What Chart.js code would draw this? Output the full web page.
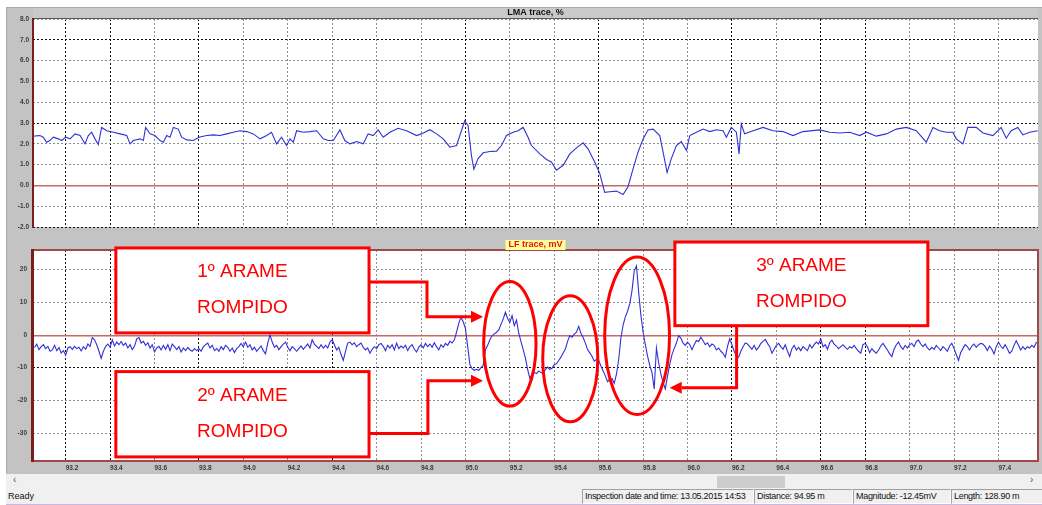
<!DOCTYPE html>
<html>
<head>
<meta charset="utf-8">
<script src="https://cdn.jsdelivr.net/npm/chart.js@4/dist/chart.umd.min.js"></script>
<style>
  html, body { margin: 0; padding: 0; width: 1042px; height: 505px; overflow: hidden; background: #fff;
    font-family: "Liberation Sans", Arial, sans-serif; }
  #frame { position: absolute; left: 6px; top: 7px; width: 1036px; height: 467px; background: #c3c3c3;
    border-top: 1px solid #a9a9a9; border-left: 1px solid #a9a9a9; box-sizing: border-box; }
  canvas { position: absolute; left: 0; }
  #lma { top: 0; }
  #lf { top: 235px; }
  #scroll { position: absolute; left: 6px; top: 474px; width: 1036px; height: 15px; background: #f0f0f0; }
  #thumb { position: absolute; left: 711px; top: 2px; width: 68px; height: 12px; background: #cdcdcd; }
  .arrow { position: absolute; top: 0px; font-size: 10px; color: #555; }
  #status { position: absolute; left: 6px; top: 489px; width: 1036px; height: 15px; background: #f0f0f0;
    border-bottom: 1px solid #c9b8e4; }
  .pane { position: absolute; top: 0; height: 13px; border: 1px solid #a0a0a0; border-right-color: #fff;
    border-bottom-color: #fff; font-size: 9px; line-height: 13px; padding-left: 2px; white-space: nowrap;
    letter-spacing: -0.3px; color: #111; overflow: hidden; box-sizing: content-box; }
  #ready { position: absolute; left: 2px; top: 1px; font-size: 9px; line-height: 13px; color: #111; }
</style>
</head>
<body>
<div id="frame"></div>
<canvas id="lma" width="1042" height="235"></canvas>
<canvas id="lf" width="1042" height="240"></canvas>
<div id="scroll">
  <span class="arrow" style="left:7px">&lsaquo;</span>
  <div id="thumb"></div>
  <span class="arrow" style="left:1024px">&rsaquo;</span>
</div>
<div id="status">
  <span id="ready">Ready</span>
  <div class="pane" style="left:576px;width:168px">Inspection date and time: 13.05.2015 14:53</div>
  <div class="pane" style="left:748px;width:95px">Distance: 94.95 m</div>
  <div class="pane" style="left:847px;width:94px">Magnitude: -12.45mV</div>
  <div class="pane" style="left:945px;width:88px">Length: 128.90 m</div>
</div>

<script>
// ---------------- data ----------------
// LMA trace: distance (m) and metallic-area loss (%)
const lmaDist = [
  93.059, 93.084, 93.099, 93.114, 93.129, 93.144, 93.167, 93.182, 93.200, 93.220,
  93.242, 93.265, 93.287, 93.302, 93.317, 93.332, 93.347, 93.362, 93.385, 93.415,
  93.445, 93.475, 93.490, 93.505, 93.535, 93.550, 93.560, 93.580, 93.602, 93.625,
  93.640, 93.655, 93.670, 93.685, 93.707, 93.722, 93.745, 93.775, 93.800, 93.835,
  93.865, 93.895, 93.925, 93.955, 93.985, 94.015, 94.045, 94.075, 94.105, 94.127,
  94.150, 94.172, 94.195, 94.210, 94.225, 94.240, 94.270, 94.300, 94.330, 94.360,
  94.382, 94.405, 94.435, 94.457,
  94.480, 94.510, 94.540, 94.562, 94.585, 94.607, 94.630, 94.660, 94.697, 94.735,
  94.780, 94.802, 94.840, 94.870, 94.900, 94.930, 94.960, 94.982, 94.997, 95.012,
  95.027, 95.038, 95.057, 95.080, 95.110, 95.140, 95.162, 95.185, 95.215, 95.237,
  95.260, 95.282, 95.297, 95.335, 95.365, 95.387, 95.410, 95.440, 95.470, 95.500,
  95.530, 95.552, 95.582, 95.605, 95.627, 95.650, 95.680, 95.710, 95.732, 95.755,
  95.777, 95.800, 95.822, 95.845, 95.875, 95.890, 95.908, 95.927, 95.950, 95.972,
  95.995,
  96.010, 96.040, 96.070, 96.100, 96.130, 96.160, 96.175, 96.197, 96.220, 96.232,
  96.242, 96.257, 96.295, 96.340, 96.385, 96.430, 96.475, 96.520, 96.595, 96.640,
  96.685, 96.730, 96.775, 96.805, 96.850, 96.895, 96.940, 96.985, 97.030, 97.075,
  97.105, 97.135, 97.165, 97.195, 97.210, 97.240, 97.262, 97.300, 97.330, 97.375,
  97.412, 97.435, 97.457, 97.487, 97.510, 97.540, 97.577
];
const lmaValue = [
  2.37, 2.40, 2.32, 2.08, 2.16, 2.32, 2.24, 2.16, 2.32, 2.24,
  2.48, 2.40, 2.00, 2.40, 2.56, 2.24, 1.97, 2.79, 2.63, 2.56,
  2.48, 2.40, 2.00, 2.16, 2.24, 2.16, 2.79, 2.48, 2.40, 2.16,
  2.08, 2.40, 2.32, 2.79, 2.71, 2.32, 2.19, 2.16, 2.32, 2.40,
  2.43, 2.40, 2.48, 2.56, 2.63, 2.59, 2.48, 2.24, 2.40, 2.56,
  2.00, 2.32, 1.92, 2.24, 2.08, 2.63, 2.56, 2.59, 2.63, 2.24,
  2.16, 2.16, 2.67, 2.16,
  2.00, 2.11, 2.00, 2.48, 2.40, 2.67, 2.32, 2.56, 2.75, 2.63,
  2.40, 2.48, 2.68, 2.48, 2.24, 1.84, 1.92, 2.63, 3.11, 2.87,
  1.44, 0.78, 1.29, 1.57, 1.63, 1.65, 1.92, 2.40, 2.56, 2.63,
  2.79, 2.32, 1.92, 1.52, 1.25, 1.13, 0.73, 0.97, 1.52, 1.81,
  2.05, 1.76, 1.13, 0.57, -0.33, -0.30, -0.27, -0.43, -0.06, 0.81,
  1.60, 2.24, 2.67, 2.71, 2.40, 1.60, 0.62, 1.29, 1.92, 2.11,
  1.68,
  2.40, 2.56, 2.71, 2.59, 2.68, 2.63, 2.32, 2.79, 2.56, 1.52,
  2.95, 2.48, 2.63, 2.79, 2.63, 2.59, 2.40, 2.59, 2.67, 2.56,
  2.52, 2.56, 2.40, 2.56, 2.37, 2.48, 2.71, 2.79, 2.63, 2.08,
  2.79, 2.63, 2.56, 2.56, 2.24, 2.00, 2.79, 2.79, 2.52, 2.40,
  2.79, 2.27, 2.63, 2.79, 2.43, 2.56, 2.63
];

// LF trace (mV), sampled every 0.01 m starting at 93.06 m
const lfStart = 93.06;
const lfStep = 0.01;
const lfValues = [
  -3.8, -2.8, -4.5, -3.6,                                      // 93.06
  -3.0, -4.2, -3.5, -5.0, -4.6, -3.2, -4.8, -3.9, -5.5, -4.8,  // 93.1
  -6.2, -4.0, -3.6, -4.4, -3.5, -4.2, -3.8, -4.9, -3.6, -4.4,  // 93.2
  -2.8, -3.5, -0.8, -1.5, -3.0, -5.0, -7.2, -5.0, -3.5, -2.8,  // 93.3
  -3.8, -1.5, -3.4, -2.2, -3.0, -2.0, -3.2, -2.5, -4.0, -3.0,  // 93.4
  -4.5, -3.5, -1.2, -0.8, -2.5, -2.0, -3.2, -2.4, -4.0, -3.0,  // 93.5
  -5.2, -4.0, -3.5, -4.6, -3.2, -4.4, -3.0, -4.8, -2.8, -3.6,  // 93.6
  -4.5, -3.6, -5.2, -4.0, -4.8, -3.8, -4.6, -5.0, -4.2, -4.8,  // 93.7
  -4.2, -5.0, -3.6, -3.0, -2.5, -4.0, -3.2, -4.8, -4.2, -5.0,  // 93.8
  -3.6, -4.5, -3.2, -3.8, -5.0, -4.0, -5.4, -4.2, -3.6, -2.6,  // 93.9
  -3.6, -2.2, -3.8, -3.0, -4.6, -3.8, -5.0, -4.2, -3.4, -4.8,  // 94.0
  -5.8, -2.5,  0.0, -2.2, -3.8, -3.2, -4.5, -3.6, -2.8, -2.2,  // 94.1
  -3.8, -4.8, -3.6, -4.2, -5.0, -4.2, -3.4, -4.4, -3.6, -2.8,  // 94.2
  -4.0, -1.5, -2.8, -3.5, -4.2, -3.0, -4.0, -3.2, -4.0, -2.2,  // 94.3
  -1.5, -3.0, -4.6, -3.8, -6.0, -7.8, -5.0, -2.5, -2.2, -3.0,  // 94.4
  -2.4, -3.6, -3.0, -2.5, -3.8, -4.6, -4.0, -5.6, -4.4, -3.6,  // 94.5
  -4.2, -3.0, -2.6, -3.5, -4.8, -3.2, -4.0, -3.0, -4.6, -2.5,  // 94.6
  -4.2, -3.4, -4.0, -3.2, -4.8, -3.6, -3.0, -4.4, -5.2, -3.8,  // 94.7
  -3.0, -4.0, -2.6, -3.6, -2.8, -3.8, -2.4, -3.6, -4.6, -3.0,  // 94.8
  -3.8, -2.6, -3.2, -2.0, -2.5, -1.5,  0.8,  3.5,  5.4,  4.0,  // 94.9
   2.0, -3.5, -9.0, -10.3, -10.8, -10.5, -10.8, -10.0, -9.3, -4.5, // 95.0
  -3.2, -1.5, -0.3,  0.3,  0.8,  1.5,  3.2,  4.8,  6.9,  5.0,  // 95.1
   3.8,  5.9,  2.8,  4.5,  0.5, -2.0, -4.5, -7.0, -10.5, -13.3, // 95.2
  -12.0, -11.5, -11.8, -11.0, -11.5, -11.8, -10.5, -9.8, -10.5, -10.2, // 95.3
  -9.0, -8.8, -7.8, -6.8, -5.5, -4.3, -2.0, -0.2, -0.7,  0.2,  // 95.4
   0.8,  2.6,  0.5, -0.8, -2.5, -4.5, -5.5, -6.5, -8.0, -7.5,  // 95.5
  -7.8, -9.5, -11.0, -12.5, -14.3, -13.5, -13.3, -14.8, -12.0, -7.5, // 95.6
  -1.0,  3.0,  5.5,  7.2,  9.5, 13.5, 19.5, 21.0, 13.0,  6.0,  // 95.7
   0.8, -3.0, -6.5, -9.3, -11.5, -16.5, -4.0, -8.5, -12.0, -14.5, // 95.8
  -16.5, -12.5, -9.0, -6.0, -4.2, -2.5, -0.2, -1.0, -2.5, -3.2, // 95.9
  -2.2, -3.0, -4.5, -3.0, -1.7, -2.0, -0.7, -1.8, -3.0, -2.4,  // 96.0
  -3.6, -2.8, -3.2, -4.6, -4.0, -5.0, -5.6, -6.8, -3.5, -1.2,  // 96.1
  -3.0, -5.0, -6.4, -6.8, -5.0, -3.6, -2.5, -2.8, -3.6, -4.4,  // 96.2
  -3.2, -4.6, -3.8, -2.6, -2.0, -1.4, -2.6, -3.6, -5.6, -4.4,  // 96.3
  -3.2, -2.6, -3.6, -4.4, -3.0, -5.0, -6.6, -4.2, -3.2, -4.6,  // 96.4
  -3.8, -4.8, -3.6, -4.2, -4.8, -3.0, -4.0, -3.0, -2.2, -2.8,  // 96.5
  -1.2, -3.6, -3.0, -4.4, -2.4, -1.6, -2.8, -3.4, -4.2, -3.6,  // 96.6
  -3.0, -3.8, -4.4, -3.6, -4.0, -3.2, -4.2, -5.0, -5.6, -3.0,  // 96.7
  -2.6, -3.6, -5.4, -4.2, -5.0, -5.6, -4.6, -3.4, -2.6, -3.6,  // 96.8
  -4.6, -5.8, -6.6, -4.4, -3.0, -2.2, -3.6, -4.4, -3.2, -4.0,  // 96.9
  -3.0, -2.6, -3.6, -2.0, -1.6, -2.8, -3.6, -2.8, -4.0, -4.6,  // 97.0
  -3.8, -4.4, -3.2, -4.0, -4.8, -3.6, -4.2, -5.0, -3.4, -2.6,  // 97.1
  -4.2, -6.0, -7.8, -5.4, -4.2, -3.0, -3.6, -4.6, -3.4, -2.8,  // 97.2
  -3.8, -3.0, -2.6, -2.8, -3.6, -4.8, -3.4, -4.4, -5.8, -3.6,  // 97.3
  -2.2, -3.4, -4.2, -3.0, -4.2, -5.6, -5.0, -3.2, -1.8, -3.2,  // 97.4
  -4.6, -3.6, -4.4, -3.6, -4.0, -3.2, -3.8, -2.4, -2.2         // 97.5
];

// axis settings
const distMin = 93.053, distMax = 97.578, distStep = 0.2;
const lmaMin = -2, lmaMax = 8, lmaStep = 1;
const lfMin = -38.45, lfMax = 25.87, lfStep10 = 10;

// ---------------- styling ----------------
const FONT = '"Liberation Sans", Arial, sans-serif';
const TRACE_BLUE = 'rgb(48,48,214)';
const GRID_DARK = '#111';
const GRID_LIGHT = '#8f8f8f';
const ZERO_LINE = '#c46a6a';
const lmaDarkX = [93.2, 93.4, 93.8, 95.0, 95.6, 96.2, 96.6, 96.8];
const lmaDarkY = [7, 3, -2];
const lfDarkX = [93.2, 93.4, 93.8, 94.4, 96.2, 96.6, 96.8];
const lfDarkY = [-10];

const near = (list, v) => list.some(d => Math.abs(d - v) < 1e-6);
const gridColor = (dark) => ctx => {
  const v = ctx.tick ? ctx.tick.value : NaN;
  if (Math.abs(v) < 1e-9) return 'rgba(0,0,0,0)';
  return near(dark, v) ? GRID_DARK : GRID_LIGHT;
};
const tickFont = { family: FONT, size: 6.5, weight: 'bold' };

// white plot background, solid zero line
function plotBackground(chart) {
  const { ctx, chartArea: a } = chart;
  ctx.save();
  ctx.fillStyle = '#fff';
  ctx.fillRect(a.left, a.top, a.right - a.left, a.bottom - a.top);
  ctx.restore();
}
function zeroLine(chart) {
  const { ctx, chartArea: a, scales } = chart;
  const y = Math.round(scales.y.getPixelForValue(0));
  ctx.save();
  ctx.fillStyle = ZERO_LINE;
  ctx.fillRect(a.left, y, a.right - a.left, 1.5);
  ctx.restore();
}

const lmaPanel = {
  id: 'lmaPanel',
  beforeDraw: plotBackground,
  beforeDatasetsDraw: zeroLine,
  afterDraw(chart) {
    const { ctx, chartArea: a } = chart;
    ctx.save();
    // title strip
    ctx.fillStyle = '#c9c9c9';
    ctx.fillRect(a.left, 8, a.right - a.left, 10);
    ctx.strokeStyle = '#5a5a5a';
    ctx.lineWidth = 1;
    ctx.beginPath();
    ctx.moveTo(a.left, a.top - 0.5);
    ctx.lineTo(a.right, a.top - 0.5);
    ctx.stroke();
    ctx.fillStyle = '#111';
    ctx.font = 'bold 9px ' + FONT;
    ctx.textAlign = 'center';
    ctx.textBaseline = 'middle';
    ctx.fillText('LMA trace, %', (a.left + a.right) / 2, 13);
    // left axis bar
    ctx.strokeStyle = '#7a1d1d';
    ctx.lineWidth = 2;
    ctx.beginPath();
    ctx.moveTo(a.left, a.top - 1);
    ctx.lineTo(a.left, a.bottom + 1);
    ctx.stroke();
    ctx.restore();
  }
};

// ---------------- callouts on the LF panel (distance m / mV) ----------------
const callouts = [
  { lines: ['1º ARAME', 'ROMPIDO'], x0: 93.426, x1: 94.566, y0: 26.5, y1: 0.6 },
  { lines: ['2º ARAME', 'ROMPIDO'], x0: 93.426, x1: 94.566, y0: -11.2, y1: -37.2 },
  { lines: ['3º ARAME', 'ROMPIDO'], x0: 95.943, x1: 97.082, y0: 28.3, y1: 2.8 }
];
const rings = [
  { x: 95.200, y: -2.7, rx: 0.118, ry: 19.0 },
  { x: 95.472, y: -7.3, rx: 0.124, ry: 19.2 },
  { x: 95.773, y: -0.3, rx: 0.146, ry: 24.0 }
];
const leaders = [
  [[94.566, 16.1], [94.827, 16.1], [94.827, 5.5], [95.079, 5.5]],
  [[94.566, -30.1], [94.831, -30.1], [94.831, -14.0], [95.079, -14.0]],
  [[96.221, 2.8], [96.221, -16.1], [95.920, -16.1]]
];
const RED = '#ff0000';

const lfPanel = {
  id: 'lfPanel',
  beforeDraw: plotBackground,
  beforeDatasetsDraw: zeroLine,
  afterDraw(chart) {
    const { ctx, chartArea: a, scales } = chart;
    const X = v => scales.x.getPixelForValue(v);
    const Y = v => scales.y.getPixelForValue(v);
    ctx.save();
    // frame
    ctx.strokeStyle = '#a24848';
    ctx.lineWidth = 2;
    ctx.strokeRect(a.left, a.top, a.right - a.left, a.bottom - a.top);
    ctx.strokeStyle = '#7a1d1d';
    ctx.lineWidth = 3;
    ctx.beginPath();
    ctx.moveTo(a.left - 0.5, a.top - 1);
    ctx.lineTo(a.left - 0.5, a.bottom + 1);
    ctx.stroke();
    // title tag
    ctx.font = 'bold 9px ' + FONT;
    const title = 'LF trace, mV';
    const tw = ctx.measureText(title).width + 6;
    const cx = (a.left + a.right) / 2;
    ctx.fillStyle = '#ffff9a';
    ctx.fillRect(cx - tw / 2, a.top - 10, tw, 10);
    ctx.fillStyle = '#e81010';
    ctx.textAlign = 'center';
    ctx.textBaseline = 'middle';
    ctx.fillText(title, cx, a.top - 5);

    // ellipses
    ctx.strokeStyle = RED;
    ctx.lineWidth = 3;
    rings.forEach(r => {
      ctx.beginPath();
      ctx.ellipse(X(r.x), Y(r.y), Math.abs(X(r.x + r.rx) - X(r.x)), Math.abs(Y(r.y + r.ry) - Y(r.y)), 0, 0, Math.PI * 2);
      ctx.stroke();
    });

    // leader lines with arrowheads
    leaders.forEach(path => {
      const pts = path.map(p => [X(p[0]), Y(p[1])]);
      const n = pts.length;
      const [tx, ty] = pts[n - 1];
      const [px, py] = pts[n - 2];
      const len = Math.hypot(tx - px, ty - py);
      const ux = (tx - px) / len, uy = (ty - py) / len;
      const head = 12, half = 6;
      ctx.beginPath();
      ctx.moveTo(pts[0][0], pts[0][1]);
      for (let i = 1; i < n - 1; i++) ctx.lineTo(pts[i][0], pts[i][1]);
      ctx.lineTo(tx - ux * head, ty - uy * head);
      ctx.stroke();
      ctx.fillStyle = RED;
      ctx.beginPath();
      ctx.moveTo(tx, ty);
      ctx.lineTo(tx - ux * head - uy * half, ty - uy * head + ux * half);
      ctx.lineTo(tx - ux * head + uy * half, ty - uy * head - ux * half);
      ctx.closePath();
      ctx.fill();
    });

    // text boxes
    callouts.forEach(c => {
      const l = X(c.x0), r = X(c.x1), t = Y(c.y0), b = Y(c.y1);
      ctx.fillStyle = '#fff';
      ctx.fillRect(l, t, r - l, b - t);
      ctx.strokeStyle = RED;
      ctx.lineWidth = 3;
      ctx.strokeRect(l, t, r - l, b - t);
      ctx.fillStyle = RED;
      ctx.font = '19px ' + FONT;
      ctx.textAlign = 'center';
      ctx.textBaseline = 'middle';
      const h = b - t;
      ctx.fillText(c.lines[0], (l + r) / 2, t + h * 0.28);
      ctx.fillText(c.lines[1], (l + r) / 2, t + h * 0.71);
    });
    ctx.restore();
  }
};

// ---------------- charts ----------------
new Chart(document.getElementById('lma'), {
  type: 'line',
  data: {
    datasets: [{
      data: lmaDist.map((d, i) => ({ x: d, y: lmaValue[i] })),
      borderColor: TRACE_BLUE, borderWidth: 1.1, pointRadius: 0, tension: 0
    }]
  },
  options: {
    responsive: false, animation: false, events: [],
    layout: { padding: { top: 19, right: 4, bottom: 5, left: 0 } },
    plugins: { legend: { display: false }, tooltip: { enabled: false } },
    scales: {
      x: {
        type: 'linear', min: distMin, max: distMax,
        afterFit: s => { s.height = 0; },
        ticks: { display: false, stepSize: distStep, includeBounds: false },
        grid: { drawTicks: false, color: gridColor(lmaDarkX), lineWidth: 1 },
        border: { display: false, dash: [2, 2] }
      },
      y: {
        type: 'linear', min: lmaMin, max: lmaMax,
        afterFit: s => { s.width = 33; },
        ticks: { stepSize: lmaStep, callback: v => v.toFixed(1), font: tickFont, color: '#3a3a3a', padding: 4 },
        grid: { drawTicks: false, color: gridColor(lmaDarkY), lineWidth: 1 },
        border: { display: false, dash: [2, 2] }
      }
    }
  },
  plugins: [lmaPanel]
});

new Chart(document.getElementById('lf'), {
  type: 'line',
  data: {
    datasets: [{
      data: lfValues.map((v, i) => ({ x: lfStart + i * lfStep, y: v })),
      borderColor: TRACE_BLUE, borderWidth: 1.1, pointRadius: 0, tension: 0
    }]
  },
  options: {
    responsive: false, animation: false, events: [],
    layout: { padding: { top: 15, right: 4, bottom: 0, left: 0 } },
    plugins: { legend: { display: false }, tooltip: { enabled: false } },
    scales: {
      x: {
        type: 'linear', min: distMin, max: distMax,
        afterFit: s => { s.height = 14; },
        ticks: { stepSize: distStep, includeBounds: false, autoSkip: false, maxRotation: 0,
                 align: 'start', padding: 3, font: tickFont, color: '#3a3a3a',
                 callback: v => v.toFixed(1) },
        grid: { drawTicks: false, color: gridColor(lfDarkX), lineWidth: 1 },
        border: { display: false, dash: [2, 2] }
      },
      y: {
        type: 'linear', min: lfMin, max: lfMax,
        afterFit: s => { s.width = 33; },
        ticks: { stepSize: lfStep10, includeBounds: false, callback: v => String(v), font: tickFont, color: '#3a3a3a', padding: 6 },
        grid: { drawTicks: false, color: gridColor(lfDarkY), lineWidth: 1 },
        border: { display: false, dash: [2, 2] }
      }
    }
  },
  plugins: [lfPanel]
});
</script>
</body>
</html>
